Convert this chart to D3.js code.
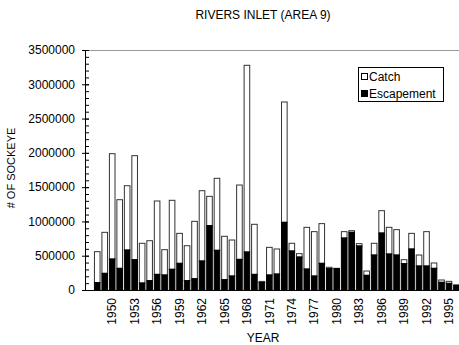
<!DOCTYPE html>
<html lang="en">
<head>
  <meta charset="utf-8">
  <title>Rivers Inlet</title>
  <style>
  * { margin:0; padding:0; }
  body { background: #fff; }
  svg text { font-family: Arial, "Liberation Sans", sans-serif; fill: #000; }
  </style>
  <script src="https://d3js.org/d3.v7.min.js"></script>
</head>
<body>
  <div id="chart"></div>
  <script type="text/javascript">
    var years=[1948,1949,1950,1951,1952,1953,1954,1955,1956,1957,1958,1959,1960,1961,1962,1963,1964,1965,1966,1967,
      1968,1969,1970,1971,1972,1973,1974,1975,1976,1977,1978,1979,1980,1981,1982,1983,1984,1985,1986,1987,
      1988,1989,1990,1991,1992,1993,1994,1995,1996];
    // escapement (black, bottom) and catch (white, stacked on top)
    var escapement=[107000,243000,452000,316000,583000,442000,102000,136000,228000,219000,302000,389000,136000,165000,423000,938000,579000,151000,204000,447000,
      554000,228000,110000,219000,233000,987000,569000,481000,306000,204000,389000,311000,312000,758000,841000,642000,214000,510000,831000,525000,
      510000,384000,598000,350000,350000,316000,112000,97000,70000];
    var catchVals=[452000,598000,1536000,1001000,938000,1517000,579000,583000,1070000,369000,1006000,437000,510000,836000,1025000,428000,1050000,632000,525000,1084000,
      2723000,730000,15000,403000,365000,1755000,112000,49000,608000,647000,579000,20000,4000,93000,24000,34000,63000,171000,326000,389000,
      370000,58000,228000,160000,501000,78000,34000,29000,3000];
    var yTicks=[0,500000,1000000,1500000,2000000,2500000,3000000,3500000];
    var xLabels=[1950,1953,1956,1959,1962,1965,1968,1971,1974,1977,1980,1983,1986,1989,1992,1995];

    var W=459, H=345;
    var pLeft=85, pRight=459, pTop=50, pBottom=290;

    var svg=d3.select("#chart").append("svg")
      .attr("width",W).attr("height",H);

    var x=d3.scaleBand().domain(years).range([93.5,460.2]).paddingInner(0.25).paddingOuter(0.125);
    var y=d3.scaleLinear().domain([0,3500000]).range([pBottom,pTop]);

    // top border line (grey)
    svg.append("line")
      .attr("x1",pLeft).attr("x2",pRight)
      .attr("y1",y(3500000)+0.5).attr("y2",y(3500000)+0.5)
      .style("stroke","#999").style("stroke-width",1);

    // bars
    var g=svg.append("g");
    years.forEach(function(yr,i){
      var e=escapement[i], c=catchVals[i];
      g.append("rect")
        .attr("x",x(yr)).attr("width",x.bandwidth())
        .attr("y",y(e+c)).attr("height",y(e)-y(e+c))
        .style("fill","#fff").style("stroke","#333").style("stroke-width",1);
      g.append("rect")
        .attr("x",x(yr)).attr("width",x.bandwidth())
        .attr("y",y(e)).attr("height",y(0)-y(e))
        .style("fill","#000").style("stroke","#000").style("stroke-width",1);
    });

    // minor ticks
    var minor=d3.range(0,3500001,100000);
    svg.append("g").attr("transform","translate("+(pLeft+0.5)+",0)")
      .call(d3.axisLeft(y).tickValues(minor).tickSize(-3.5).tickFormat(""))
      .call(function(s){ s.select(".domain").remove(); s.selectAll("line").style("stroke","#000"); });

    // major ticks + labels
    var yAxis=svg.append("g").attr("transform","translate("+(pLeft+0.5)+",0)")
      .call(d3.axisLeft(y).tickValues(yTicks).tickSize(3.5).tickPadding(7).tickFormat(d3.format("d")));
    yAxis.select(".domain").attr("d","M0,"+pTop+"V"+pBottom).style("stroke","#000");
    yAxis.selectAll(".tick line").attr("x1",3.5).attr("x2",-3.5).style("stroke","#000");
    yAxis.selectAll("text").style("font-size","12px").style("font-family","Arial, 'Liberation Sans', sans-serif");

    // baseline
    svg.append("line")
      .attr("x1",pLeft-3).attr("x2",pRight)
      .attr("y1",pBottom+0.5).attr("y2",pBottom+0.5)
      .style("stroke","#000");

    // x labels
    var xAxis=svg.append("g").attr("transform","translate(0,"+pBottom+")")
      .call(d3.axisBottom(x).tickValues(xLabels).tickSize(0).tickPadding(0));
    xAxis.select(".domain").remove();
    xAxis.selectAll("text")
      .attr("transform","rotate(-90)")
      .attr("x",-8).attr("y",0).attr("dy","0.35em")
      .style("text-anchor","end")
      .style("font-size","12px").style("font-family","Arial, 'Liberation Sans', sans-serif");

    // titles
    svg.append("text").attr("x",263).attr("y",19)
      .attr("text-anchor","middle").style("font-size","12px")
      .text("RIVERS INLET (AREA 9)");
    svg.append("text").attr("x",263).attr("y",342)
      .attr("text-anchor","middle").style("font-size","12px")
      .text("YEAR");
    svg.append("text")
      .attr("transform","translate(15,168) rotate(-90)")
      .attr("text-anchor","middle").style("font-size","11px")
      .text("# OF SOCKEYE");

    // legend
    var lg=svg.append("g");
    lg.append("rect").attr("x",358.5).attr("y",67.5).attr("width",85).attr("height",34)
      .style("fill","#fff").style("stroke","#000");
    var items=[{name:"Catch",fill:"#fff"},{name:"Escapement",fill:"#000"}];
    items.forEach(function(d,i){
      lg.append("rect").attr("x",361.5).attr("y",73.5+i*17).attr("width",6).attr("height",6)
        .style("fill",d.fill).style("stroke","#000");
      lg.append("text").attr("x",369).attr("y",81+i*17)
        .style("font-size","12px").text(d.name);
    });
  </script>
</body>
</html>
